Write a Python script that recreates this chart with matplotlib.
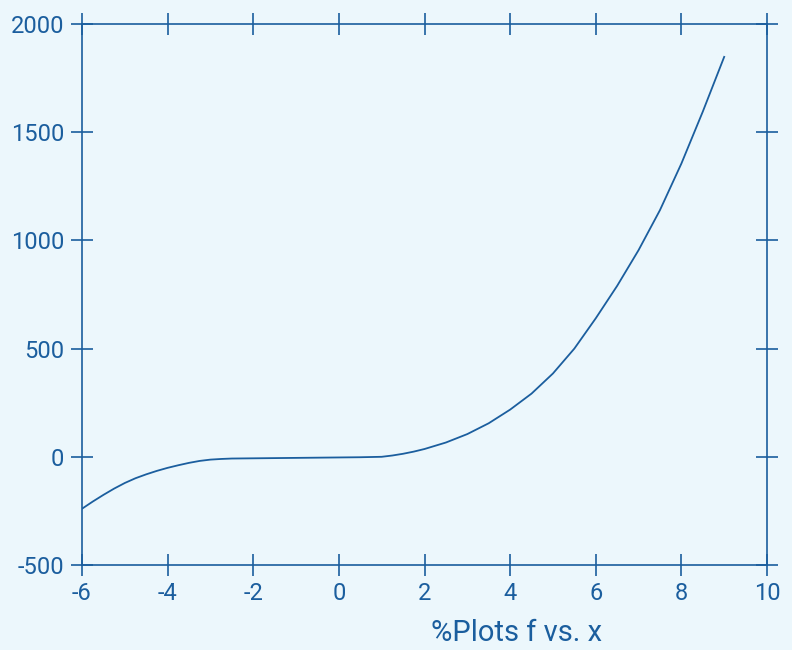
import numpy as np
import matplotlib.pyplot as plt

# values
x = [-6, -5.75, -5.5, -5.25, -5, -4.75, -4.5, -4.25, -4, -3.75, -3.5, -3.25,
     -3, -2.75, -2.5, -2, -1, 0, 0.5, 1, 1.25, 1.5, 1.75, 2, 2.5, 3, 3.5, 4,
     4.5, 5, 5.5, 6, 6.5, 7, 7.5, 8, 8.5, 9]
f = [-240, -207, -176, -147, -121, -99, -81, -65, -51, -39, -28, -19,
     -13, -10, -8, -7, -5, -3, -2, 0, 6, 14, 24, 36, 66, 105, 155, 218,
     292, 385, 500, 640, 790, 955, 1140, 1355, 1595, 1848]
xticks = [-6, -4, -2, 0, 2, 4, 6, 8, 10]
yticks = [-500, 0, 500, 1000, 1500, 2000]

blue = '#1b5e9e'
bg = '#ecf7fc'
plt.rcParams['font.family'] = ['Roboto', 'DejaVu Sans']
plt.rcParams['axes.unicode_minus'] = False

fig = plt.figure(figsize=(7.92, 6.5), dpi=100, facecolor=bg)
ax = fig.add_axes([82/792, 1-565/650, 685/792, 541/650])
ax.set_facecolor(bg)

ax.plot(x, f, color=blue, lw=1.3)

ax.set_xlim(-6, 10)
ax.set_ylim(-500, 2000)
ax.set_xticks(xticks)
ax.set_yticks(yticks)
for s in ax.spines.values():
    s.set_color(blue)
    s.set_linewidth(1.2)
ax.tick_params(direction='inout', length=16, width=1.2, color=blue,
               labelcolor=blue, labelsize=17, top=True, right=True, pad=4)
ax.tick_params(axis='y', pad=5)

fig.text(517/792, 1-633/650, '%Plots f vs. x', color=blue, fontsize=21,
         ha='center', va='center')

fig.savefig('out.png', dpi=100, facecolor=bg)
